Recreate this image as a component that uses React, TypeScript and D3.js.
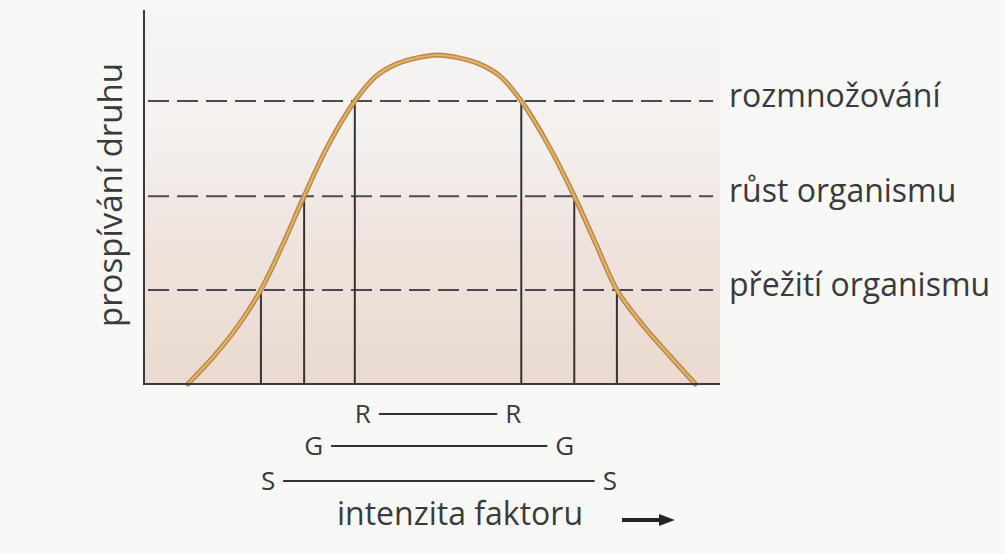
import React, { useEffect, useRef } from "react";
import * as d3 from "d3";

// Tolerance curve: species prosperity vs. factor intensity (both in 0..100 units)
const curveIntensity = [7.6, 12.0, 16.3, 20.3, 24.0, 27.8, 31.9, 36.6, 40.3, 43.9, 47.6, 51.0, 54.5, 58.2, 61.8, 65.5, 70.3, 74.7, 78.6, 82.1, 86.6, 91.3, 95.7];
const curveProsperity = [0, 8.2, 17.6, 28.6, 42.0, 57.1, 72.3, 86.0, 93.6, 97.3, 99.2, 100, 99.2, 97.3, 93.6, 86.0, 72.3, 57.1, 42.0, 28.6, 17.9, 8.5, 0];

// Threshold levels (dashed lines) and the range of intensity where each is met
const levelNames = ["rozmnožování", "růst organismu", "přežití organismu"];
const levelCodes = ["R", "G", "S"];
const levelValues = [86.0, 57.1, 28.6];
const levelLeft = [36.6, 27.8, 20.3];
const levelRight = [65.5, 74.7, 82.1];

const yAxisTitle = "prospívání druhu";
const xAxisTitle = "intenzita faktoru";

const W = 1005;
const H = 554;
const FONT = "'Open Sans', 'Noto Sans', sans-serif";
const INK = "#3a3a3e";

export default function App() {
  const ref = useRef<SVGSVGElement | null>(null);

  useEffect(() => {
    const svg = d3.select(ref.current);
    svg.selectAll("*").remove();

    const x = d3.scaleLinear().domain([0, 100]).range([144, 720]);
    const y = d3.scaleLinear().domain([0, 100]).range([384, 55]);

    const defs = svg.append("defs");
    const grad = defs
      .append("linearGradient")
      .attr("id", "plotBg")
      .attr("x1", 0)
      .attr("y1", 0)
      .attr("x2", 0)
      .attr("y2", 1);
    grad.append("stop").attr("offset", "0%").attr("stop-color", "#f6f5f4");
    grad.append("stop").attr("offset", "35%").attr("stop-color", "#f4f0ee");
    grad.append("stop").attr("offset", "60%").attr("stop-color", "#efe4de");
    grad.append("stop").attr("offset", "100%").attr("stop-color", "#eadacf");

    svg.append("rect").attr("width", W).attr("height", H).attr("fill", "#f8f8f7");

    // plot background
    svg
      .append("rect")
      .attr("x", x(0))
      .attr("y", 10)
      .attr("width", x(100) - x(0))
      .attr("height", y(0) - 10)
      .attr("fill", "url(#plotBg)");

    // dashed threshold lines
    svg
      .selectAll("line.level")
      .data(levelValues)
      .join("line")
      .attr("class", "level")
      .attr("x1", x(0.7))
      .attr("x2", x(98.8))
      .attr("y1", (d) => y(d))
      .attr("y2", (d) => y(d))
      .attr("stroke", "#4a4a50")
      .attr("stroke-width", 2)
      .attr("stroke-dasharray", "21 8");

    // vertical drop lines from each crossing
    const drops: { xv: number; lv: number }[] = [];
    levelValues.forEach((lv, i) => {
      drops.push({ xv: levelLeft[i], lv });
      drops.push({ xv: levelRight[i], lv });
    });
    svg
      .selectAll("line.drop")
      .data(drops)
      .join("line")
      .attr("class", "drop")
      .attr("x1", (d) => x(d.xv))
      .attr("x2", (d) => x(d.xv))
      .attr("y1", (d) => y(d.lv))
      .attr("y2", y(0))
      .attr("stroke", "#333336")
      .attr("stroke-width", 2);

    // the curve
    const pts = curveIntensity.map((v, i) => [v, curveProsperity[i]] as [number, number]);
    const line = d3
      .line<[number, number]>()
      .x((d) => x(d[0]))
      .y((d) => y(d[1]))
      .curve(d3.curveCatmullRom.alpha(0.5));
    svg
      .append("path")
      .attr("d", line(pts))
      .attr("fill", "none")
      .attr("stroke", "#b7864f")
      .attr("stroke-width", 5)
      .attr("stroke-linecap", "round");
    svg
      .append("path")
      .attr("d", line(pts))
      .attr("fill", "none")
      .attr("stroke", "#e4b25e")
      .attr("stroke-width", 2.2)
      .attr("stroke-linecap", "round");

    // axes
    svg
      .append("line")
      .attr("x1", x(0))
      .attr("x2", x(0))
      .attr("y1", 10)
      .attr("y2", y(0) + 1)
      .attr("stroke", INK)
      .attr("stroke-width", 2);
    svg
      .append("line")
      .attr("x1", x(0))
      .attr("x2", x(100))
      .attr("y1", y(0))
      .attr("y2", y(0))
      .attr("stroke", INK)
      .attr("stroke-width", 2);

    // level names on the right
    svg
      .selectAll("text.lvl")
      .data(levelNames)
      .join("text")
      .attr("class", "lvl")
      .attr("x", 729)
      .attr("y", (_d, i) => y(levelValues[i]) + 6)
      .attr("font-family", FONT)
      .attr("font-size", 32)
      .attr("fill", INK)
      .text((d) => d);

    // y axis title
    svg
      .append("text")
      .attr("transform", `translate(122, 195) rotate(-90)`)
      .attr("text-anchor", "middle")
      .attr("font-family", FONT)
      .attr("font-size", 33)
      .attr("fill", INK)
      .text(yAxisTitle);

    // range bars below the axis
    const rowY = [423, 455, 490];
    const gap = 8;
    levelCodes.forEach((code, i) => {
      const g = svg.append("g");
      const left = g
        .append("text")
        .attr("x", x(levelLeft[i]))
        .attr("y", rowY[i])
        .attr("font-family", FONT)
        .attr("font-size", 26)
        .attr("fill", INK)
        .text(code);
      const right = g
        .append("text")
        .attr("x", x(levelRight[i]))
        .attr("y", rowY[i])
        .attr("text-anchor", "end")
        .attr("font-family", FONT)
        .attr("font-size", 26)
        .attr("fill", INK)
        .text(code);
      const lw = (left.node() as SVGTextElement).getComputedTextLength();
      const rw = (right.node() as SVGTextElement).getComputedTextLength();
      g.append("line")
        .attr("x1", x(levelLeft[i]) + lw + gap)
        .attr("x2", x(levelRight[i]) - rw - gap)
        .attr("y1", rowY[i] - 9)
        .attr("y2", rowY[i] - 9)
        .attr("stroke", "#333336")
        .attr("stroke-width", 2);
    });

    // x axis title with arrow
    svg
      .append("text")
      .attr("x", 337)
      .attr("y", 525)
      .attr("font-family", FONT)
      .attr("font-size", 32)
      .attr("fill", INK)
      .text(xAxisTitle);
    defs
      .append("marker")
      .attr("id", "arrowHead")
      .attr("viewBox", "0 0 10 10")
      .attr("refX", 2)
      .attr("refY", 5)
      .attr("markerWidth", 16)
      .attr("markerHeight", 12)
      .attr("orient", "auto")
      .attr("markerUnits", "userSpaceOnUse")
      .attr("preserveAspectRatio", "none")
      .append("path")
      .attr("d", "M0,0 L10,5 L0,10 Z")
      .attr("fill", "#222428");
    svg
      .append("line")
      .attr("x1", 622)
      .attr("x2", 662)
      .attr("y1", 520)
      .attr("y2", 520)
      .attr("stroke", "#222428")
      .attr("stroke-width", 4)
      .attr("marker-end", "url(#arrowHead)");
  }, []);

  return (
    <svg
      ref={ref}
      width={W}
      height={H}
      style={{ position: "absolute", left: 0, top: 0, display: "block" }}
    />
  );
}
